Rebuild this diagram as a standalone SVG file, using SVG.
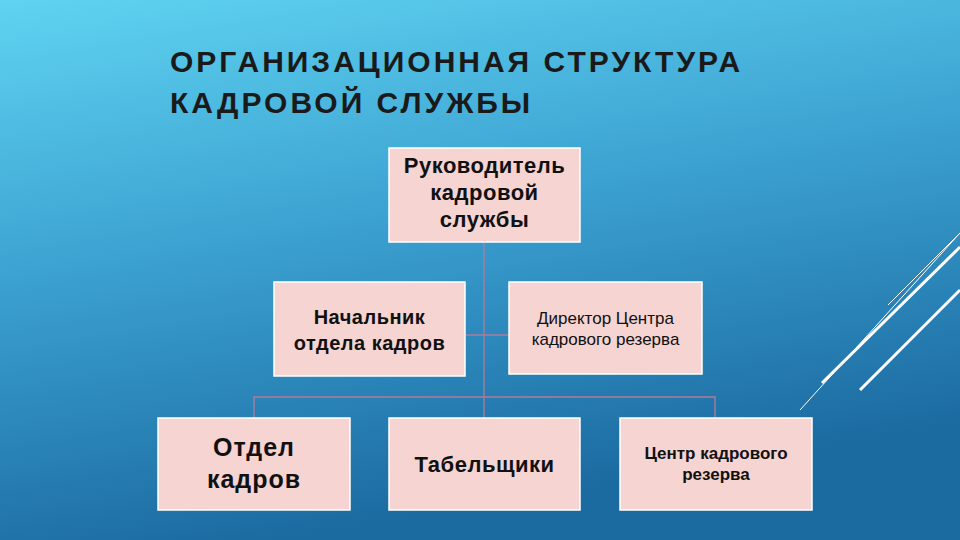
<svg xmlns="http://www.w3.org/2000/svg" width="960" height="540" viewBox="0 0 960 540">
<defs>
<linearGradient id="bg" x1="0" y1="0" x2="0.3" y2="1">
<stop offset="0" stop-color="#5fd3f1"/>
<stop offset="0.5" stop-color="#3a9fcf"/>
<stop offset="1" stop-color="#1b6aa0"/>
</linearGradient>
<style>
.box{fill:#f5d4d2;stroke:#ffffff;stroke-width:1.5}
.t{font-family:"Liberation Sans","DejaVu Sans",sans-serif;fill:#111;text-anchor:middle}
.c{stroke:#b27a9a;stroke-width:1.3;fill:none}
.d{stroke:#ffffff;fill:none}
</style>
</defs>
<rect width="960" height="540" fill="url(#bg)"/>
<g id="deco">
<line class="d" x1="822" y1="383" x2="960" y2="247" stroke-width="3"/>
<line class="d" x1="860" y1="390" x2="960" y2="290" stroke-width="3"/>
<line class="d" x1="800" y1="410" x2="960" y2="233" stroke-width="1"/>
<line class="d" x1="888" y1="305" x2="960" y2="233" stroke-width="1"/>
</g>
<g id="title" font-family="'Liberation Sans',sans-serif" font-weight="bold" font-size="30" fill="#1a1a1a" letter-spacing="3">
<text x="170" y="72">ОРГАНИЗАЦИОННАЯ СТРУКТУРА</text>
<text x="170" y="113">КАДРОВОЙ СЛУЖБЫ</text>
</g>
<g id="connectors">
<line class="c" x1="484" y1="242" x2="484" y2="418"/>
<line class="c" x1="465" y1="335" x2="509" y2="335"/>
<polyline class="c" points="254,418 254,397 715,397 715,418"/>
</g>
<g id="n1"><rect class="box" x="389" y="148" width="191" height="94"/>
<text class="t" font-size="22" font-weight="bold" letter-spacing="0.5"><tspan x="484.5" y="173">Руководитель</tspan><tspan x="484.5" y="200">кадровой</tspan><tspan x="484.5" y="227">службы</tspan></text></g>
<g id="n2"><rect class="box" x="274" y="282" width="191" height="94"/>
<text class="t" font-size="20" font-weight="bold" letter-spacing="0.5"><tspan x="369.5" y="324">Начальник</tspan><tspan x="369.5" y="350">отдела кадров</tspan></text></g>
<g id="n3"><rect class="box" x="509" y="282" width="193" height="92"/>
<text class="t" font-size="17"><tspan x="605.5" y="324">Директор Центра</tspan><tspan x="605.5" y="345">кадрового резерва</tspan></text></g>
<g id="n4"><rect class="box" x="158" y="418" width="192" height="92"/>
<text class="t" font-size="25" font-weight="bold" letter-spacing="1"><tspan x="254" y="456">Отдел</tspan><tspan x="254" y="488">кадров</tspan></text></g>
<g id="n5"><rect class="box" x="389" y="418" width="191" height="92"/>
<text class="t" font-size="22" font-weight="bold" letter-spacing="0.5"><tspan x="484.5" y="472">Табельщики</tspan></text></g>
<g id="n6"><rect class="box" x="620" y="418" width="192" height="92"/>
<text class="t" font-size="17" font-weight="bold"><tspan x="716" y="459">Центр кадрового</tspan><tspan x="716" y="480">резерва</tspan></text></g>
</svg>
